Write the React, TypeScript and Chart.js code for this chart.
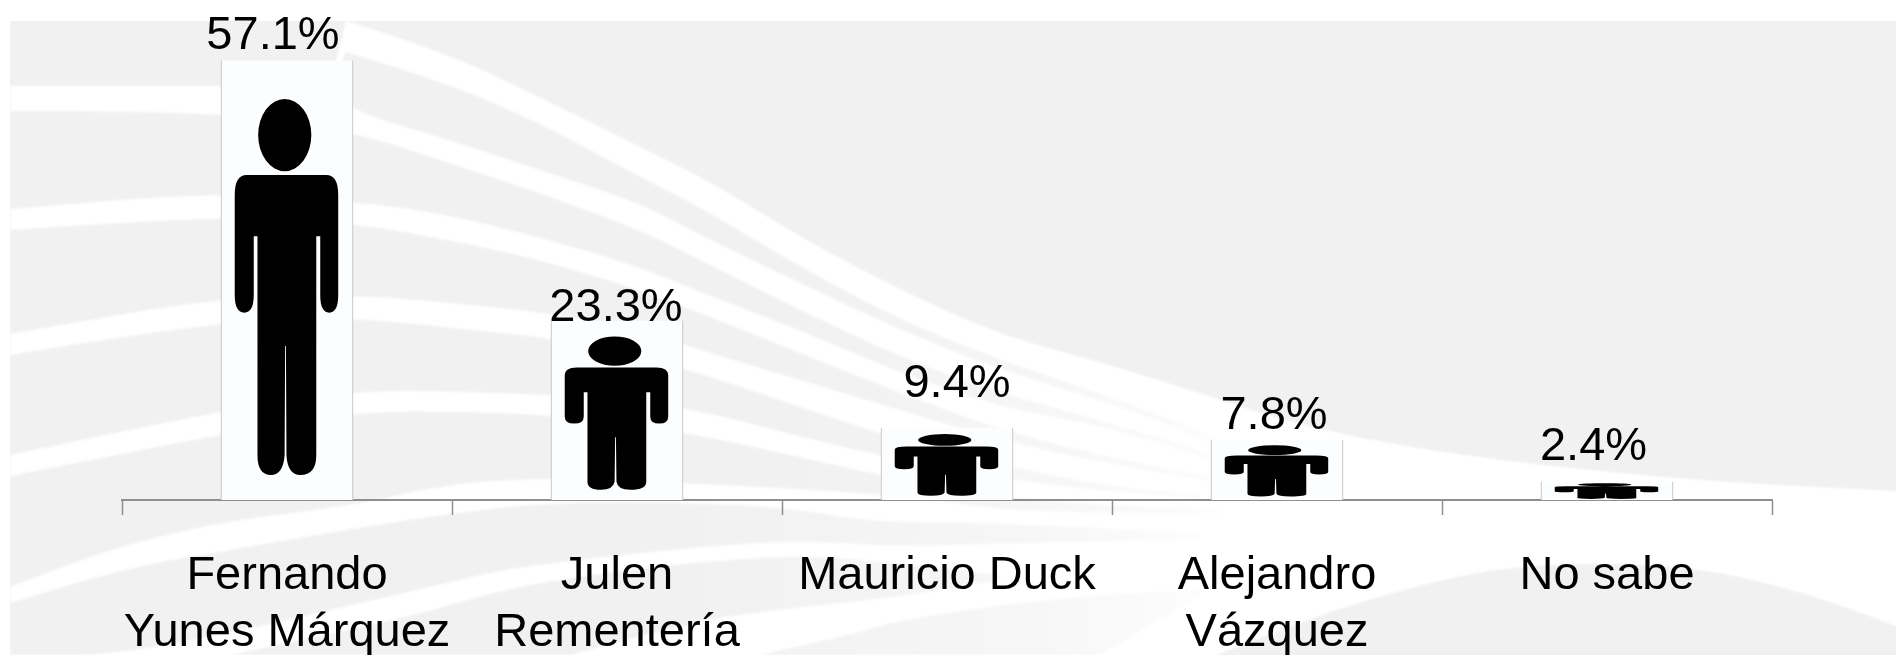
import React, { useEffect, useRef } from "react";
import { Chart, registerables } from "chart.js";

Chart.register(...registerables);

const categories: (string | string[])[] = [
  ["Fernando", "Yunes Márquez"],
  ["Julen", "Rementería"],
  "Mauricio Duck",
  ["Alejandro", "Vázquez"],
  "No sabe",
];
const shares: number[] = [57.1, 23.3, 9.4, 7.8, 2.4];
const Y_MAX = 60;

/* Hand placed data labels in the reference: [dx, distance above the bar] */
const LABEL_NUDGE: [number, number][] = [
  [-14, 11.5],
  [-1, 0],
  [10, 30.5],
  [-3, 11],
  [-13.5, 22],
];

type P = [number, number];
const GRAY = "#f1f1f1";

/* Background artwork: decorative swooshes, not chart data */
const A_TOP: P[] = [[346, 21], [440, 50], [540, 97], [640, 147], [713, 183], [800, 237], [900, 290], [1000, 335], [1100, 362], [1200, 393], [1300, 426], [1452, 455], [1680, 480], [1896, 491]];
const BLOB_TOP: P[] = [[1896, 626], [1832, 601], [1718, 570], [1604, 562], [1490, 568], [1376, 597], [1300, 622], [1217, 655]];
const UPPER: { top: P[]; bottom: P[] }[] = [
  { // A / B
    top: [[346, 52], [440, 80], [540, 123], [640, 177], [700, 207], [800, 267], [900, 320], [1000, 360], [1100, 393], [1200, 430], [1300, 480]],
    bottom: [[1300, 483], [1200, 437], [1100, 400], [1000, 370], [900, 330], [800, 283], [700, 235], [640, 203], [540, 170], [440, 137], [357, 113], [330, 88]],
  },
  { // B / C
    top: [[10, 111], [220, 110], [357, 133], [440, 160], [540, 193], [640, 230], [700, 260], [800, 310], [900, 357], [1000, 393], [1100, 420], [1200, 450], [1300, 486]],
    bottom: [[1300, 488], [1200, 456], [1100, 425], [1000, 407], [900, 373], [800, 330], [700, 292], [640, 267], [540, 237], [440, 213], [357, 202], [220, 192], [10, 209]],
  },
  { // C / D
    top: [[10, 230], [220, 215], [357, 223], [473, 245], [540, 260], [640, 290], [700, 313], [800, 353], [900, 393], [1000, 430], [1100, 455], [1200, 475], [1300, 492]],
    bottom: [[1300, 494], [1200, 480], [1100, 462], [1000, 440], [900, 410], [800, 380], [700, 350], [640, 330], [540, 312], [473, 305], [360, 295], [220, 297], [10, 334]],
  },
  { // D / E
    top: [[10, 355], [220, 320], [360, 318], [473, 330], [550, 338], [620, 352], [700, 373], [800, 407], [900, 440], [1000, 465], [1100, 485], [1200, 495]],
    bottom: [[1200, 498], [1100, 491], [1000, 478], [900, 460], [800, 437], [700, 410], [620, 400], [550, 395], [473, 392], [360, 390], [220, 411], [10, 455]],
  },
  { // E / F
    top: [[10, 476], [220, 434], [360, 411], [473, 412], [550, 415], [690, 433], [800, 457], [900, 480], [1000, 497], [1107, 505], [1220, 510]],
    bottom: [[1220, 513], [1107, 513], [1000, 510], [900, 495], [690, 483], [550, 478], [453, 483], [345, 507], [230, 520], [115, 547], [10, 587]],
  },
];
const LOWER: { top: P[]; bottom: P[] }[] = [
  { // F / G
    top: [[10, 603], [115, 570], [230, 550], [345, 530], [460, 512], [560, 502], [700, 503], [790, 508], [870, 522], [1000, 523], [1200, 533]],
    bottom: [[1200, 540], [1000, 543], [900, 547], [800, 540], [700, 547], [600, 557], [500, 570], [460, 580], [137, 655], [10, 655]],
  },
  { // below G
    top: [[230, 655], [400, 620], [500, 590], [600, 573], [700, 562], [800, 555], [900, 563], [1000, 575]],
    bottom: [[1000, 580], [900, 597], [800, 607], [700, 620], [600, 647], [570, 655]],
  },
  { // lowest
    top: [[760, 655], [850, 635], [900, 620], [1000, 605], [1100, 595], [1200, 590]],
    bottom: [[1200, 595], [1100, 655]],
  },
];

function smooth(ctx: CanvasRenderingContext2D, pts: P[], move: boolean) {
  if (move) ctx.moveTo(pts[0][0], pts[0][1]);
  else ctx.lineTo(pts[0][0], pts[0][1]);
  for (let i = 1; i < pts.length - 1; i++) {
    const mx = (pts[i][0] + pts[i + 1][0]) / 2;
    const my = (pts[i][1] + pts[i + 1][1]) / 2;
    ctx.quadraticCurveTo(pts[i][0], pts[i][1], mx, my);
  }
  const last = pts[pts.length - 1];
  ctx.lineTo(last[0], last[1]);
}

function fade(ctx: CanvasRenderingContext2D, W: number, stops: [number, string][]) {
  const g = ctx.createLinearGradient(0, 0, W, 0);
  g.addColorStop(0, GRAY);
  for (const [x, c] of stops) g.addColorStop(x / W, c);
  return g;
}

const backdrop = {
  id: "backdrop",
  beforeDraw(chart: Chart) {
    const ctx = chart.ctx;
    const W = chart.width;
    const H = chart.height;
    ctx.save();
    ctx.fillStyle = "#ffffff";
    ctx.fillRect(0, 0, W, H);
    ctx.fillStyle = GRAY;
    ctx.fillRect(10, 21, W - 10, H - 21);

    ctx.filter = "blur(1px)";
    ctx.beginPath();
    ctx.moveTo(10, 86);
    ctx.lineTo(220, 86);
    ctx.lineTo(330, 86);
    smooth(ctx, A_TOP, false);
    ctx.lineTo(W + 10, 491);
    ctx.lineTo(W + 10, 630);
    smooth(ctx, BLOB_TOP, false);
    ctx.lineTo(1217, H + 10);
    ctx.lineTo(10, H + 10);
    ctx.closePath();
    ctx.fillStyle = "#ffffff";
    ctx.fill();

    ctx.fillStyle = fade(ctx, W, [
      [750, GRAY],
      [900, "#f3f3f3"],
      [1050, "#f7f7f7"],
      [1180, "#fbfbfb"],
      [1300, "#ffffff"],
    ]);
    for (const s of UPPER) {
      ctx.beginPath();
      smooth(ctx, s.top, true);
      smooth(ctx, s.bottom, false);
      ctx.closePath();
      ctx.fill();
    }
    ctx.fillStyle = fade(ctx, W, [
      [640, GRAY],
      [800, "#f3f3f3"],
      [1000, "#f6f6f6"],
      [1150, "#fbfbfb"],
      [1280, "#ffffff"],
    ]);
    for (const s of LOWER) {
      ctx.beginPath();
      smooth(ctx, s.top, true);
      smooth(ctx, s.bottom, false);
      ctx.closePath();
      ctx.fill();
    }
    ctx.restore();
    // the white page margin stays crisp
    ctx.save();
    ctx.fillStyle = "#ffffff";
    ctx.fillRect(0, 0, 10, H);
    ctx.restore();
  },
};

function personPath(ctx: CanvasRenderingContext2D) {
  const L = 0.107, R = 0.885, T = 0.261, AB = 0.574, LB = 0.943;
  const rx = 0.09, ry = 0.045, ay = 0.04, ly = 0.045;
  ctx.beginPath();
  ctx.moveTo(L + rx, T);
  ctx.lineTo(R - rx, T);
  ctx.quadraticCurveTo(R, T, R, T + ry);
  ctx.lineTo(R, AB - ay);
  ctx.quadraticCurveTo(R, AB, 0.8175, AB);
  ctx.quadraticCurveTo(0.75, AB, 0.75, AB - ay);
  ctx.lineTo(0.75, 0.4);
  ctx.lineTo(0.72, 0.4);
  ctx.lineTo(0.72, LB - ly);
  ctx.quadraticCurveTo(0.72, LB, 0.6, LB);
  ctx.quadraticCurveTo(0.505, LB, 0.496, LB - ly);
  ctx.lineTo(0.492, 0.65);
  ctx.lineTo(0.486, 0.65);
  ctx.lineTo(0.482, LB - ly);
  ctx.quadraticCurveTo(0.47, LB, 0.38, LB);
  ctx.quadraticCurveTo(0.278, LB, 0.278, LB - ly);
  ctx.lineTo(0.278, 0.4);
  ctx.lineTo(0.25, 0.4);
  ctx.lineTo(0.25, AB - ay);
  ctx.quadraticCurveTo(0.25, AB, 0.1785, AB);
  ctx.quadraticCurveTo(L, AB, L, AB - ay);
  ctx.lineTo(L, T + ry);
  ctx.quadraticCurveTo(L, T, L + rx, T);
  ctx.closePath();
  ctx.moveTo(0.683, 0.17);
  ctx.ellipse(0.483, 0.17, 0.2, 0.082, 0, 0, Math.PI * 2);
}

const pictograms = {
  id: "pictograms",
  afterDatasetsDraw(chart: Chart) {
    const ctx = chart.ctx;
    const meta = chart.getDatasetMeta(0);
    meta.data.forEach((el: any, i: number) => {
      const left = el.x - el.width / 2;
      const h = el.base - el.y;
      ctx.save();
      ctx.filter = "blur(0.7px)";
      ctx.translate(left, el.y);
      ctx.scale(el.width, h);
      personPath(ctx);
      ctx.fillStyle = "#000000";
      ctx.fill();
      ctx.restore();

      ctx.save();
      ctx.font = '47px "Liberation Sans", Arial, sans-serif';
      ctx.fillStyle = "#000000";
      ctx.textAlign = "center";
      ctx.textBaseline = "alphabetic";
      const [dx, up] = LABEL_NUDGE[i];
      ctx.fillText(`${shares[i]}%`, el.x + dx, el.y - up);
      ctx.restore();
    });
  },
};

export default function App() {
  const ref = useRef<HTMLCanvasElement | null>(null);
  useEffect(() => {
    if (!ref.current) return;
    const chart = new Chart(ref.current, {
      type: "bar",
      data: {
        labels: categories as any,
        datasets: [
          {
            data: shares,
            backgroundColor: "#fcfdfe",
            borderColor: "#d2d2d2",
            borderWidth: { left: 1.5, right: 1.5, top: 0, bottom: 0 } as any,
            borderSkipped: false,
            categoryPercentage: 1,
            barPercentage: 0.403,
          },
        ],
      },
      options: {
        responsive: false,
        animation: false,
        devicePixelRatio: 1,
        layout: { padding: { left: 122, right: 124, top: 38, bottom: 0 } },
        plugins: { legend: { display: false }, tooltip: { enabled: false }, title: { display: false } },
        scales: {
          x: {
            z: 1,
            afterFit(scale: any) {
              scale.height = 155;
            },
            grid: {
              drawOnChartArea: false,
              drawTicks: true,
              tickLength: 15,
              tickColor: "#8f8f8f",
              tickWidth: 1.5,
              offset: true,
            },
            border: { display: true, color: "#8f8f8f", width: 2 },
            ticks: {
              color: "#000000",
              autoSkip: false,
              maxRotation: 0,
              minRotation: 0,
              padding: 32,
              font: { family: '"Liberation Sans", Arial, sans-serif', size: 47, lineHeight: 1.223 },
            },
          },
          y: { display: false, min: 0, max: Y_MAX },
        },
      },
      plugins: [backdrop, pictograms],
    } as any);
    return () => chart.destroy();
  }, []);
  return (
    <div style={{ position: "absolute", left: 0, top: 0, width: 1896, height: 655, overflow: "hidden" }}>
      <canvas ref={ref} width={1896} height={655} style={{ display: "block" }} />
    </div>
  );
}
